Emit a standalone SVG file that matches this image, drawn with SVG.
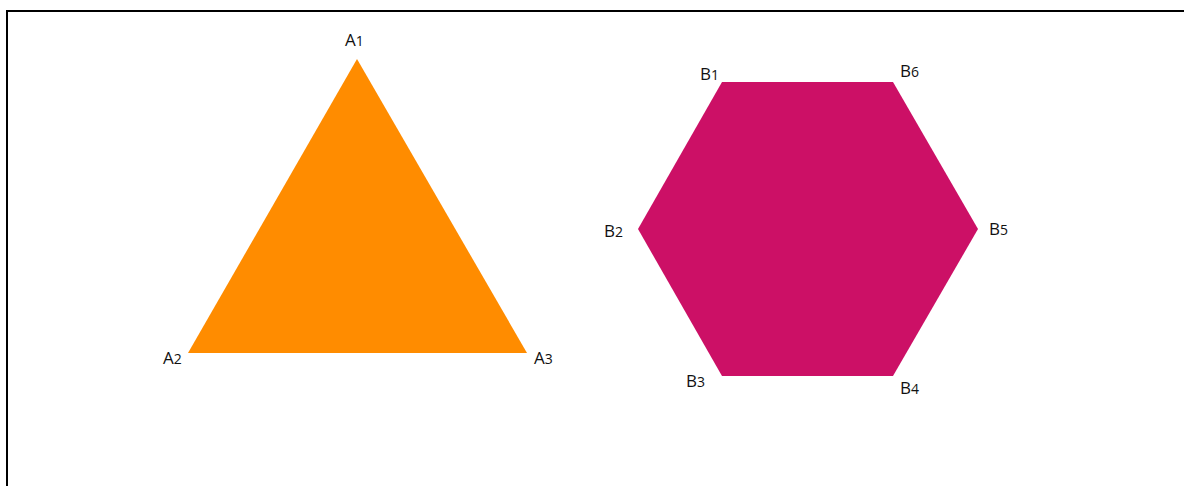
<svg xmlns="http://www.w3.org/2000/svg" width="1184" height="486" viewBox="0 0 1184 486">
<style>
text{font-family:"Open Sans","DejaVu Sans",sans-serif;font-size:17px;fill:#111}
.s{font-size:14px}
</style>
<rect width="1184" height="486" fill="#fff"/>
<path d="M7 490 V11 H1190" fill="none" stroke="#000" stroke-width="2"/>
<g id="triangle">
<polygon points="357,59 188,353 527,353" fill="#FF8C00"/>
<text x="345" y="46">A<tspan class="s">1</tspan></text>
<text x="163" y="364">A<tspan class="s">2</tspan></text>
<text x="534" y="364">A<tspan class="s">3</tspan></text>
</g>
<g id="hexagon">
<polygon points="722,82 893,82 978,229 893,376 722,376 638,229" fill="#CC1066"/>
<text x="700" y="80">B<tspan class="s">1</tspan></text>
<text x="900" y="77">B<tspan class="s">6</tspan></text>
<text x="604" y="237">B<tspan class="s">2</tspan></text>
<text x="989" y="235">B<tspan class="s">5</tspan></text>
<text x="686" y="387">B<tspan class="s">3</tspan></text>
<text x="900" y="394">B<tspan class="s">4</tspan></text>
</g>
</svg>
